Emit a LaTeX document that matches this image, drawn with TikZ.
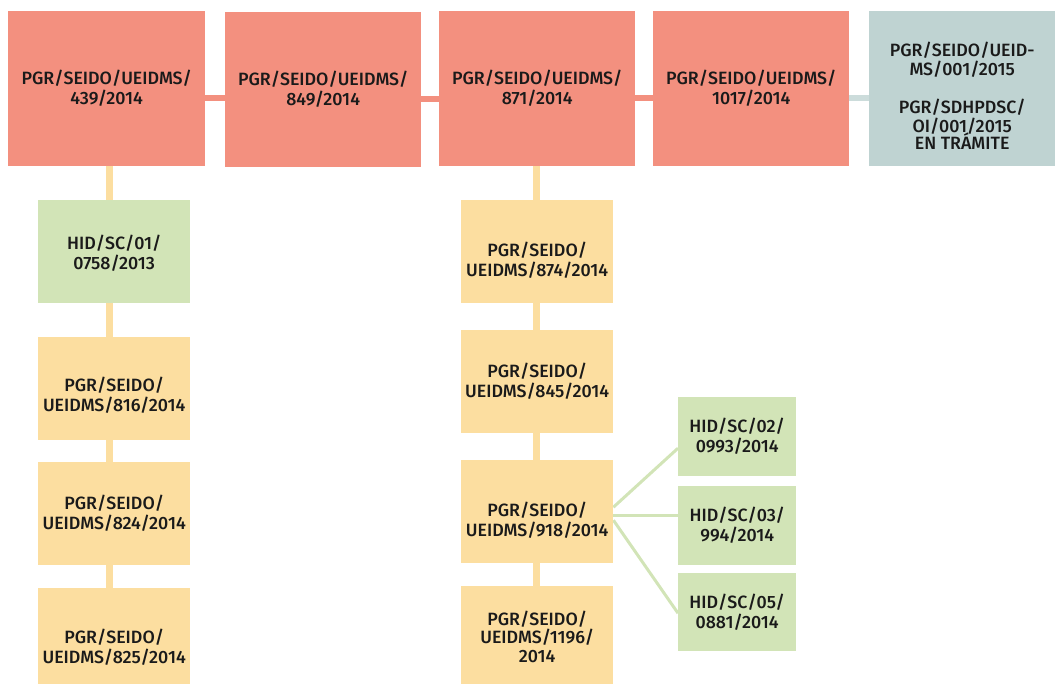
\documentclass[tikz,border=0pt]{standalone}
\usepackage{fontspec}
\setmainfont{Fira Sans}[UprightFont=* Medium]
\usetikzlibrary{backgrounds}
\definecolor{salmon}{HTML}{F3907F}
\definecolor{peach}{HTML}{FCDEA0}
\definecolor{leaf}{HTML}{D2E4B7}
\definecolor{slate}{HTML}{BFD3D2}
\definecolor{slateline}{HTML}{CCDCDB}
\definecolor{ink}{HTML}{1A1A1A}
% push text of a box down by (#1-14)/2 pt
\newcommand\pushdown[1]{\rule{0pt}{#1pt}}
\begin{document}
\begin{tikzpicture}[x=1pt,y=-1pt,
  bx/.style={rectangle, inner sep=0pt, anchor=north west, align=center,
    font=\fontsize{17.8}{20}\selectfont, text=ink},
  topbox/.style={bx, fill=salmon, minimum width=196pt, minimum height=155pt},
  colbox/.style={bx, fill=peach, minimum width=152pt, minimum height=103pt},
  greenbox/.style={bx, fill=leaf, minimum width=152pt, minimum height=103pt},
  smallbox/.style={bx, fill=leaf, minimum width=118pt, minimum height=79pt},
  sline/.style={draw=salmon, line width=6pt},
  gline/.style={draw=slateline, line width=6pt},
  oline/.style={draw=peach, line width=7pt},
  lline/.style={draw=leaf, line width=3pt}]
\useasboundingbox (0,0) rectangle (1055,684);
% top row
\node[topbox, minimum width=197pt] (a1) at (8,11) {PGR/SEIDO/UEIDMS/\\439/2014};
\node[topbox] (a2) at (225,12) {PGR/SEIDO/UEIDMS/\\849/2014};
\node[topbox] (a3) at (439,11) {PGR/SEIDO/UEIDMS/\\871/2014};
\node[topbox] (a4) at (653,11) {PGR/SEIDO/UEIDMS/\\1017/2014};
\node[topbox, fill=slate, minimum width=186pt, font=\fontsize{17.8}{19}\selectfont] (a5) at (869,11)
  {\pushdown{28}PGR/SEIDO/UEID-\\MS/001/2015\\[\baselineskip]PGR/SDHPDSC/\\OI/001/2015\\[-2pt]EN TRÁMITE};
% left column
\node[greenbox] (g1) at (38,200) {\pushdown{18}HID/SC/01/\\0758/2013};
\node[colbox] (l2) at (38,337) {\pushdown{28}PGR/SEIDO/\\UEIDMS/816/2014};
\node[colbox] (l3) at (38,462) {PGR/SEIDO/\\UEIDMS/824/2014};
\node[colbox, minimum height=96pt] (l4) at (38,588) {\pushdown{36}PGR/SEIDO/\\UEIDMS/825/2014};
% middle column
\node[colbox] (m1) at (461,200) {\pushdown{32}PGR/SEIDO/\\UEIDMS/874/2014};
\node[colbox] (m2) at (461,330) {PGR/SEIDO/\\UEIDMS/845/2014};
\node[colbox] (m3) at (461,460) {\pushdown{32}PGR/SEIDO/\\UEIDMS/918/2014};
\node[colbox, minimum height=98pt] (m4) at (461,586) {\pushdown{17}PGR/SEIDO/\\[-1.5pt]UEIDMS/1196/\\[-1.5pt]2014};
% right green boxes
\node[smallbox] (r1) at (678,397) {HID/SC/02/\\0993/2014};
\node[smallbox] (r2) at (678,486) {HID/SC/03/\\994/2014};
\node[smallbox, minimum height=78pt] (r3) at (678,573) {HID/SC/05/\\0881/2014};
\begin{scope}[on background layer]
  \draw[sline] ([yshift=-9.5pt]a1.east) -- ([yshift=-9.5pt]a1.east -| a2.west);
  \draw[sline] ([yshift=-9.5pt]a2.east) -- ([yshift=-9.5pt]a2.east -| a3.west);
  \draw[sline] ([yshift=-9.5pt]a3.east) -- ([yshift=-9.5pt]a3.east -| a4.west);
  \draw[gline] ([yshift=-9.5pt]a4.east) -- ([yshift=-9.5pt]a4.east -| a5.west);
  \draw[oline] ([xshift=2.5pt]a1.south) -- ([xshift=-5pt]g1.north);
  \draw[oline] ([xshift=-5pt]g1.south) -- ([xshift=-5pt]l2.north);
  \draw[oline] ([xshift=-5pt]l2.south) -- ([xshift=-5pt]l3.north);
  \draw[oline] ([xshift=-5pt]l3.south) -- ([xshift=-5pt]l4.north);
  \draw[oline] ([xshift=-1pt]a3.south) -- ([xshift=-1pt]m1.north);
  \draw[oline] ([xshift=-1pt]m1.south) -- ([xshift=-1pt]m2.north);
  \draw[oline] ([xshift=-1pt]m2.south) -- ([xshift=-1pt]m3.north);
  \draw[oline] ([xshift=-1pt]m3.south) -- ([xshift=-1pt]m4.north);
  \draw[lline] ([yshift=4.5pt]m3.east) -- ([yshift=-11.5pt]r1.west);
  \draw[lline] ([yshift=-3.5pt]m3.east) -- ([yshift=10.5pt]r2.west);
  \draw[lline] ([yshift=-8.5pt]m3.east) -- ([yshift=-1pt]r3.west);
\end{scope}
\end{tikzpicture}
\end{document}
